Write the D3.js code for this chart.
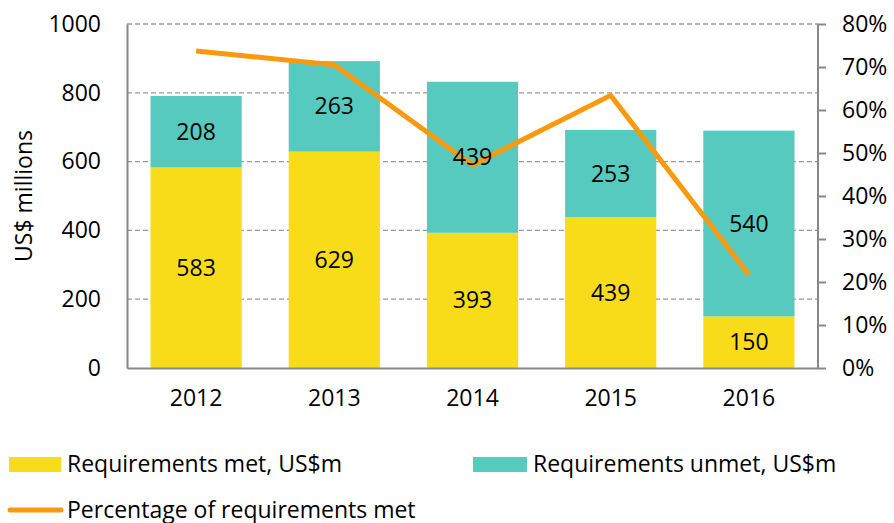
<!DOCTYPE html>
<html>
<head>
<meta charset="utf-8">
<script src="https://d3js.org/d3.v7.min.js"></script>
<style>
body { margin: 0; background: #fff; }
text { font-family: "Open Sans", Lato, sans-serif; fill: #000; }
</style>
</head>
<body>
<div id="chart"></div>
<script>
var years = ["2012", "2013", "2014", "2015", "2016"];
var met = [583, 629, 393, 439, 150];
var unmet = [208, 263, 439, 253, 540];
var pctMet = [73.7, 70.5, 47.2, 63.4, 21.7];
var leftTicks = [0, 200, 400, 600, 800, 1000];
var rightTicks = [0, 10, 20, 30, 40, 50, 60, 70, 80];

var W = 894, H = 523;
var m = {left: 127, right: 76, top: 24, bottom: 155};
var cw = W - m.left - m.right, ch = H - m.top - m.bottom;
var fs = "23px";

var svg = d3.select("#chart").append("svg").attr("width", W).attr("height", H);
var g = svg.append("g").attr("transform", "translate(" + m.left + "," + m.top + ")");

var x = d3.scaleBand().domain(years).range([0, cw]).paddingInner(0.34).paddingOuter(0.17);
var y = d3.scaleLinear().domain([0, 1000]).range([ch, 0]);
var y2 = d3.scaleLinear().domain([0, 80]).range([ch, 0]);

// gridlines
g.append("g").selectAll("line").data(leftTicks.filter(d => d > 0)).enter().append("line")
    .attr("x1", 0).attr("x2", cw)
    .attr("y1", d => y(d)).attr("y2", d => y(d))
    .attr("stroke", "#999").attr("stroke-width", 1.3).attr("stroke-dasharray", "5,3");

var stack = years.map((yr, i) => ({year: yr, met: met[i], unmet: unmet[i]}));

// bars
g.append("g").selectAll("rect").data(stack).enter().append("rect")
    .attr("x", d => x(d.year)).attr("width", x.bandwidth())
    .attr("y", d => y(d.met)).attr("height", d => y(0) - y(d.met))
    .attr("fill", "#F8DC1A");
g.append("g").selectAll("rect").data(stack).enter().append("rect")
    .attr("x", d => x(d.year)).attr("width", x.bandwidth())
    .attr("y", d => y(d.met + d.unmet)).attr("height", d => y(d.met) - y(d.met + d.unmet))
    .attr("fill", "#57CAC0");

// axes
var leftAxis = g.append("g").call(d3.axisLeft(y).tickValues(leftTicks).tickSize(0).tickPadding(26).tickFormat(d3.format("d")));
leftAxis.select(".domain").attr("stroke", "#888").attr("stroke-width", 2);
leftAxis.selectAll("text").style("font-size", fs);

var bottomAxis = g.append("g").attr("transform", "translate(0," + ch + ")")
    .call(d3.axisBottom(x).tickSize(0).tickPadding(22));
bottomAxis.select(".domain").attr("stroke", "#888").attr("stroke-width", 2);
bottomAxis.selectAll("text").style("font-size", fs);

var rightAxis = g.append("g").attr("transform", "translate(" + cw + ",0)")
    .call(d3.axisRight(y2).tickValues(rightTicks).tickSize(8).tickPadding(16).tickFormat(d => d + "%"));
rightAxis.select(".domain").attr("stroke", "#888").attr("stroke-width", 2).attr("d", "M0," + ch + "V0");
rightAxis.selectAll(".tick line").attr("stroke", "#888").attr("stroke-width", 2);
rightAxis.selectAll("text").style("font-size", fs);

// line
var line = d3.line().x((d, i) => x(years[i]) + x.bandwidth() / 2).y(d => y2(d));
g.append("path").datum(pctMet).attr("d", line)
    .attr("fill", "none").attr("stroke", "#F8990E").attr("stroke-width", 5);

// data labels
g.append("g").selectAll("text").data(stack).enter().append("text")
    .attr("x", d => x(d.year) + x.bandwidth() / 2).attr("y", d => y(d.met / 2))
    .attr("dy", "0.35em").attr("text-anchor", "middle").style("font-size", fs)
    .text(d => d.met);
g.append("g").selectAll("text").data(stack).enter().append("text")
    .attr("x", d => x(d.year) + x.bandwidth() / 2).attr("y", d => y(d.met + d.unmet / 2))
    .attr("dy", "0.35em").attr("text-anchor", "middle").style("font-size", fs)
    .text(d => d.unmet);

// y title
svg.append("text").attr("transform", "translate(32," + (m.top + ch / 2) + ") rotate(-90)")
    .attr("text-anchor", "middle").style("font-size", fs).text("US$ millions");

// legend
var lg = svg.append("g");
lg.append("rect").attr("x", 9).attr("y", 457).attr("width", 52).attr("height", 15).attr("fill", "#F8DC1A");
lg.append("text").attr("x", 67).attr("y", 472).style("font-size", fs).text("Requirements met, US$m");
lg.append("rect").attr("x", 473).attr("y", 457).attr("width", 54).attr("height", 15).attr("fill", "#57CAC0");
lg.append("text").attr("x", 533).attr("y", 472).style("font-size", fs).text("Requirements unmet, US$m");
lg.append("line").attr("x1", 10).attr("x2", 61).attr("y1", 510).attr("y2", 510)
    .attr("stroke", "#F8990E").attr("stroke-width", 5).attr("stroke-linecap", "round");
lg.append("text").attr("x", 67).attr("y", 518).style("font-size", fs).text("Percentage of requirements met");
</script>
</body>
</html>
